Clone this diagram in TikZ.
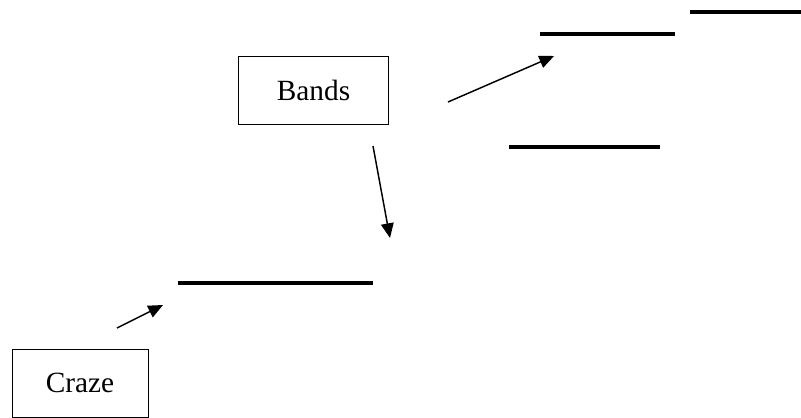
\documentclass[tikz,border=0pt]{standalone}
\usepackage{fontspec}
\setmainfont{Liberation Serif}
\usetikzlibrary{positioning,arrows.meta}
\tikzset{box/.style={draw,line width=.75pt,minimum height=51pt,inner sep=0pt,font=\fontsize{22}{26}\selectfont}}
\tikzset{bar/.style={line width=3.6pt}}
\tikzset{pointer/.style={-{Triangle[length=11pt,width=9.5pt]},line width=1.1pt}}

\begin{document}
\begin{tikzpicture}[x=.75pt,y=-.75pt]
  \useasboundingbox (0,0) rectangle (801,418);
  \node[box,minimum width=102pt] (craze) at (80,383) {Craze};
  \node[box,minimum width=113pt] (bands) at (313.5,90) {Bands};

  % levels
  \draw[bar] (178,283) -- (373,283);
  \draw[bar] (509,147) -- (660,147);
  \draw[bar] (540,34) -- (675,34);
  \draw[bar] (690,12) -- (801,12);

  \coordinate (c1) at (117,328);
  \coordinate (c2) at (163,305);
  \coordinate (b1) at (373,146);
  \coordinate (b2) at (390,238);
  \coordinate (b3) at (448,102);
  \coordinate (b4) at (554,56);
  \draw[pointer] (c1) -- (c2);
  \draw[pointer] (b1) -- (b2);
  \draw[pointer] (b3) -- (b4);
\end{tikzpicture}
\end{document}
